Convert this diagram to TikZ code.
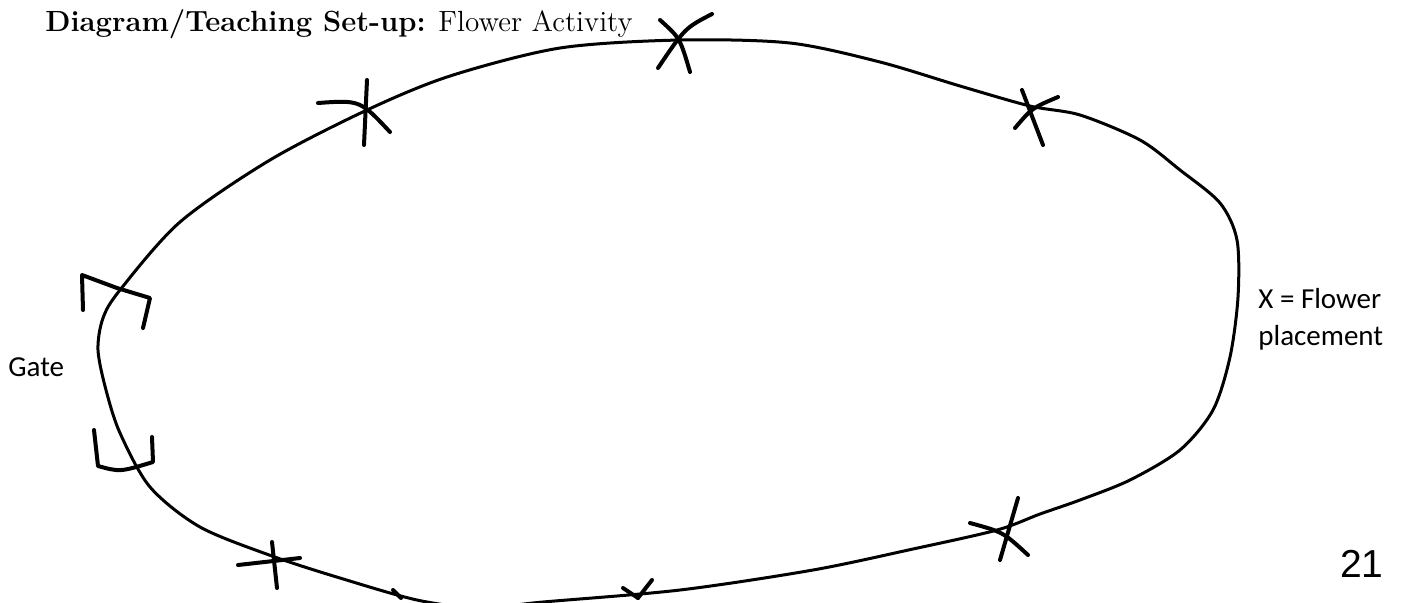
\documentclass[tikz,border=0pt]{standalone}
\usepackage{fontspec}
\newfontfamily\calfont{Carlito}
\newfontfamily\arialfont{Liberation Sans}
\begin{document}
\begin{tikzpicture}[x=0.5pt,y=-0.5pt,
  loopline/.style={line width=1.5pt,line cap=round,line join=round},
  xstroke/.style={line width=2pt,line cap=round},
  keylabel/.style={inner sep=0pt,font=\calfont\fontsize{14.5}{18}\selectfont}]
\useasboundingbox[fill=white] (0,0) rectangle (1403,602);
\begin{scope}
\clip (0,0) rectangle (1403,602);
\draw[loopline] plot[smooth cycle,tension=0.5] coordinates {
 (120,290) (180,222) (270,160) (367,110) (450,76) (560,48)
 (680,40) (790,43) (880,62) (960,86) (1030,106) (1080,115) (1140,140)
 (1180,170) (1220,203) (1237,240) (1238,297) (1230,357) (1213,410) (1180,450)
 (1130,480) (1080,500) (1040,514) (997,530) (913,549) (813,570) (680,590)
 (543,602) (480,608) (417,600) (340,578) (272,556) (200,527) (150,487)
 (120,433) (106,390) (98,350) (103,318)};
% small tick on the bottom
\draw[xstroke] (393,590) -- (401,598);
\end{scope}
% X marks
\draw[xstroke] (660,20) .. controls (680,38) .. (690,72);
\draw[xstroke] (658,68) .. controls (685,28) .. (712,14);
\draw[xstroke] (367,80) -- (364,145);
\draw[xstroke] (318,103) .. controls (360,100) .. (390,132);
\draw[xstroke] (1022,90) -- (1043,145);
\draw[xstroke] (1015,128) .. controls (1032,108) .. (1058,97);
\draw[xstroke] (1018,498) -- (1000,560);
\draw[xstroke] (970,523) .. controls (1003,532) .. (1028,555);
\draw[xstroke] (272,542) -- (277,588);
\draw[xstroke] (238,565) -- (300,558);
\draw[xstroke] (623,588) -- (638,598);
\draw[xstroke] (652,580) -- (638,598);
% gate brackets
\draw[xstroke,line join=round] (83,310) -- (82,275) -- (117,288) -- (150,298) -- (143,328);
\draw[xstroke,line join=round] (94,430) -- (98,466) .. controls (120,472) .. (153,462) -- (152,437);
% texts
\node[anchor=base west,inner sep=0pt,font=\fontsize{14.6}{17}\selectfont] (title) at (45,31)
  {\textbf{Diagram/Teaching Set-up:} Flower Activity};
\node[keylabel,anchor=base west] (gate) at (8,376) {Gate};
\node[keylabel,anchor=base west] (key1) at (1258,308) {X = Flower};
\node[keylabel,anchor=base west] (key2) at (1258,345) {placement};
\node[anchor=base east,inner sep=0pt,font=\arialfont\fontsize{19.5}{22}\selectfont] (page) at (1384,577) {21};
\end{tikzpicture}
\end{document}
